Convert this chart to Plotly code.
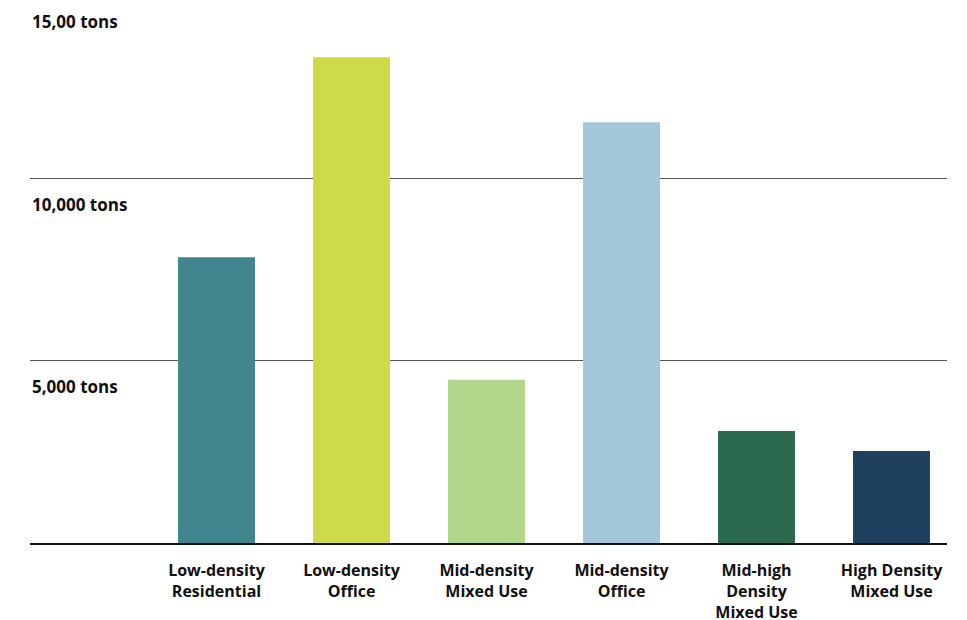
import plotly.graph_objects as go

categories = ["Low-density<br>Residential", "Low-density<br>Office", "Mid-density<br>Mixed Use",
              "Mid-density<br>Office", "Mid-high<br>Density<br>Mixed Use", "High Density<br>Mixed Use"]
values = [7830, 13310, 4470, 11530, 3070, 2520]
colors = ["#41868F", "#CDDB4A", "#B2D78B", "#A1C7D8", "#2B6A50", "#1F405F"]
tick_values = [5000, 10000, 15000]
tick_labels = ["5,000 tons", "10,000 tons", "15,00 tons"]

YMAX = 14000
FONT = "Open Sans"

fig = go.Figure(go.Bar(x=categories, y=values, marker=dict(color=colors, line=dict(width=0)),
                       width=0.57, hoverinfo="skip"))

for v, t in zip(tick_values, tick_labels):
    fig.add_annotation(x=0, xref="paper", xanchor="left", y=v / YMAX, yref="paper",
                       yanchor="middle", yshift=-26, text=t, showarrow=False,
                       font=dict(family=FONT, size=17, color="#111111", weight="bold"))

fig.update_layout(
    width=967, height=620,
    margin=dict(l=22, r=28, t=24, b=85),
    plot_bgcolor="white", paper_bgcolor="white",
    showlegend=False,
    xaxis=dict(type="category", range=[-1.3815, 5.411], showgrid=False, automargin=False,
               showline=True, linecolor="#111111", linewidth=1.5,
               tickfont=dict(family=FONT, size=16, color="#111111", weight="bold"),
               ticklabelstandoff=12),
    yaxis=dict(range=[0, YMAX], tickvals=tick_values, showticklabels=False, automargin=False,
               showgrid=True, gridcolor="#555555", gridwidth=1, zeroline=False,
               showline=False),
)

fig.write_html("out.html")
